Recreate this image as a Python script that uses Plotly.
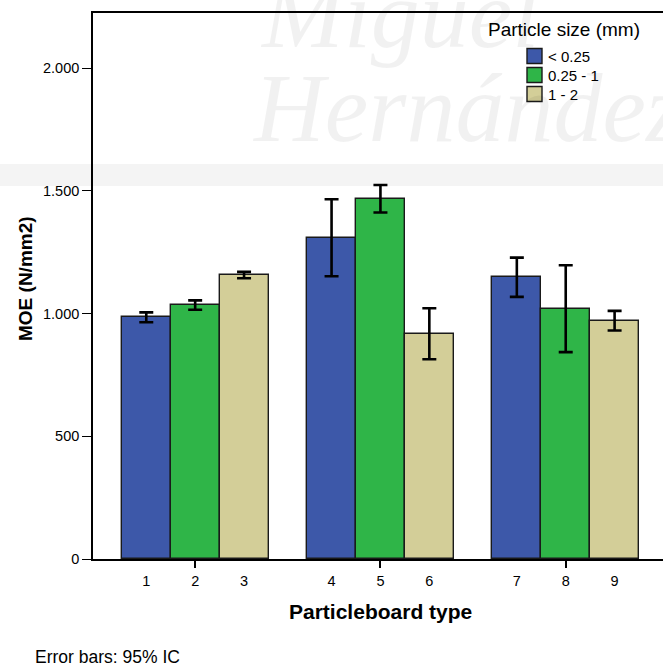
import plotly.graph_objects as go

# ---- data -------------------------------------------------------------
size_classes = ["< 0.25", "0.25 - 1", "1 - 2"]
type_labels = ["1", "2", "3", "4", "5", "6", "7", "8", "9"]

# mean MOE (N/mm2) per particleboard type, one list per particle size class
moe_fine = [985, 1309, 1148]      # types 1, 4, 7
moe_medium = [1035, 1468, 1020]   # types 2, 5, 8
moe_coarse = [1157, 918, 971]     # types 3, 6, 9

# half-width of the 95% confidence interval
ci_fine = [20, 157, 80]
ci_medium = [19, 56, 177]
ci_coarse = [13, 104, 40]

y_ticks = [0, 500, 1000, 1500, 2000]

# ---- styling / layout ---------------------------------------------------
colors = ["#3d58a9", "#2fb548", "#d3ce98"]
W, H = 663, 670
M_L, M_R, M_T, M_B = 93, 0, 13, 111
PW, PH = W - M_L - M_R, H - M_T - M_B
group_gap = 0.79           # empty space between groups, in bar widths
n_groups = 3
FONT = "Liberation Sans, Arial, sans-serif"


def pos(g, i):
    return g * (3 + group_gap) + i


def px_x(px):
    return (px - M_L) / PW


def px_y(py):
    return (H - M_B - py) / PH


series_vals = [moe_fine, moe_medium, moe_coarse]
series_ci = [ci_fine, ci_medium, ci_coarse]

fig = go.Figure()
for i, (name, vals, ci, col) in enumerate(zip(size_classes, series_vals, series_ci, colors)):
    fig.add_trace(go.Bar(
        x=[pos(g, i) for g in range(n_groups)],
        y=vals,
        width=1.0,
        name=name,
        marker=dict(color=col, line=dict(color="#1a1a1a", width=1.4)),
        error_y=dict(type="data", array=ci, visible=True,
                     color="black", thickness=2.6, width=7),
        showlegend=False,
    ))

all_pos = [pos(g, i) for g in range(n_groups) for i in range(3)]
group_centers = [pos(g, 1) for g in range(n_groups)]
x_range = [-1.09, 10.57]

fig.update_layout(
    width=W, height=H,
    margin=dict(l=M_L, r=M_R, t=M_T, b=M_B, pad=0),
    paper_bgcolor="white", plot_bgcolor="rgba(0,0,0,0)",
    separators=",.",
    font=dict(family=FONT, color="black"),
    bargap=0,
    xaxis=dict(
        range=x_range, showgrid=False, zeroline=False,
        showline=True, mirror=True, linecolor="black", linewidth=1.6,
        tickvals=all_pos, ticktext=type_labels,
        ticks="outside", ticklen=8, tickcolor="rgba(0,0,0,0)",
        tickfont=dict(size=14.5),
    ),
    xaxis2=dict(
        range=x_range, overlaying="x", anchor="y", side="bottom",
        showgrid=False, zeroline=False, showline=False,
        tickvals=group_centers, showticklabels=False,
        ticks="outside", ticklen=8, tickwidth=1.6, tickcolor="black",
    ),
    yaxis=dict(
        range=[0, 2225], showgrid=False, zeroline=False,
        showline=True, linecolor="black", linewidth=1.6,
        tickvals=y_ticks, tickformat=",d",
        ticks="outside", ticklen=9, tickwidth=1.4, tickcolor="black",
        tickfont=dict(size=14.5),
    ),
)

# invisible helper trace so xaxis2 (group tick marks) is rendered
fig.add_trace(go.Scatter(x=[x_range[0]], y=[0], xaxis="x2", mode="markers",
                         marker=dict(opacity=0), showlegend=False, hoverinfo="skip"))

shapes = []
annotations = []

# faint background banner
shapes.append(dict(type="rect", xref="paper", yref="paper", layer="below",
                   x0=px_x(0), x1=px_x(W), y0=px_y(186), y1=px_y(164),
                   fillcolor="#f4f4f4", line=dict(width=0)))
for txt, cx, cy in [("Miguel", 258, 14), ("Hernández", 250, 108)]:
    annotations.append(dict(text=txt, xref="paper", yref="paper",
                            x=px_x(cx), y=px_y(cy), xanchor="left", yanchor="middle",
                            showarrow=False,
                            font=dict(family="Liberation Serif, serif", size=98,
                                      color="rgba(0,0,0,0.055)", style="italic")))

# axis titles and footnote
annotations.append(dict(text="<b>MOE (N/mm2)</b>", xref="paper", yref="paper",
                        x=px_x(25), y=px_y(279), textangle=-90, showarrow=False,
                        xanchor="center", yanchor="middle", font=dict(size=19)))
annotations.append(dict(text="<b>Particleboard type</b>", xref="paper", yref="paper",
                        x=px_x(380), y=px_y(611), showarrow=False,
                        xanchor="center", yanchor="middle", font=dict(size=21)))
annotations.append(dict(text="Error bars: 95% IC", xref="paper", yref="paper",
                        x=px_x(33), y=px_y(657), showarrow=False,
                        xanchor="left", yanchor="middle", font=dict(size=17.5)))

# legend
annotations.append(dict(text="Particle size (mm)", xref="paper", yref="paper",
                        x=px_x(486), y=px_y(29), showarrow=False,
                        xanchor="left", yanchor="middle", font=dict(size=19)))
for k, (name, col) in enumerate(zip(size_classes, colors)):
    cy = 56 + k * 19
    shapes.append(dict(type="rect", xref="paper", yref="paper",
                       x0=px_x(527), x1=px_x(542), y0=px_y(cy + 7.5), y1=px_y(cy - 7.5),
                       fillcolor=col, line=dict(color="#1a1a1a", width=1.4)))
    annotations.append(dict(text=name, xref="paper", yref="paper",
                            x=px_x(546), y=px_y(cy), showarrow=False,
                            xanchor="left", yanchor="middle", font=dict(size=15)))

fig.update_layout(shapes=shapes, annotations=annotations)
fig.write_html("out.html")
